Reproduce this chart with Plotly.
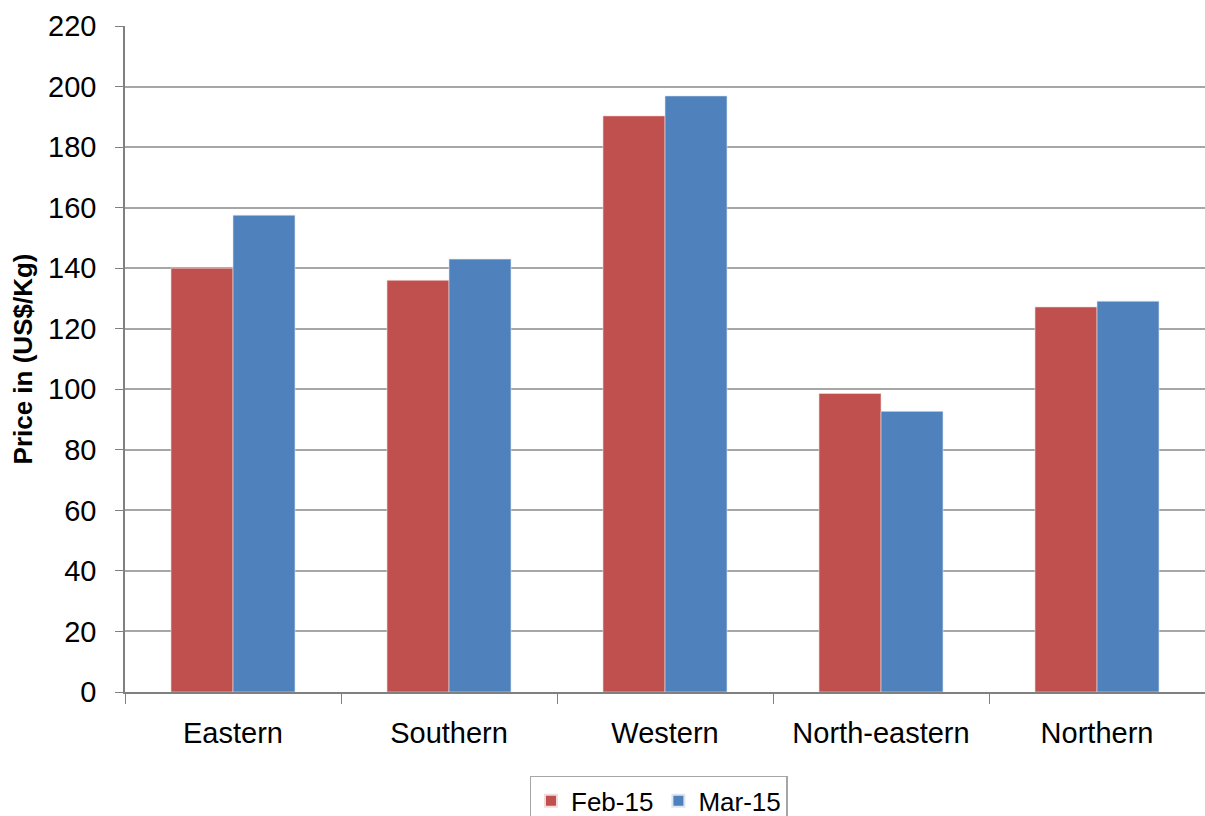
import plotly.graph_objects as go

regions = ["Eastern", "Southern", "Western", "North-eastern", "Northern"]
feb_15 = [140.0, 136.0, 190.3, 98.6, 127.2]
mar_15 = [157.5, 143.0, 196.9, 92.7, 129.1]
y_ticks = list(range(0, 221, 20))

fig = go.Figure()
fig.add_trace(go.Bar(name="Feb-15", x=regions, y=feb_15,
                     marker=dict(color="#C0504D", line=dict(color="#F2DCDB", width=0.6))))
fig.add_trace(go.Bar(name="Mar-15", x=regions, y=mar_15,
                     marker=dict(color="#4F81BD", line=dict(color="#DCE6F2", width=0.6))))

fig.update_layout(
    width=1205, height=816,
    margin=dict(l=125, r=0, t=26, b=124, autoexpand=False),
    plot_bgcolor="white", paper_bgcolor="white",
    barmode="group", bargap=0.426, bargroupgap=0,
    font=dict(family="Liberation Sans, Arial, sans-serif", color="#000000"),
    showlegend=True,
    legend=dict(orientation="h", x=0.494, xanchor="center", y=-0.126, yanchor="top",
                bordercolor="#A6A6A6", borderwidth=1.5, font=dict(size=26),
                itemsizing="constant", traceorder="normal"),
)
fig.update_xaxes(
    type="category", tickson="boundaries", ticks="outside", ticklen=10, tickcolor="#808080",
    showline=True, linecolor="#808080", linewidth=1.5, showgrid=False,
    tickfont=dict(size=29), ticklabelstandoff=14, automargin=False,
)
fig.update_yaxes(
    range=[0, 220], tickvals=y_ticks, ticks="outside", ticklen=8, tickcolor="#808080",
    showline=True, linecolor="#808080", linewidth=1.5,
    showgrid=True, gridcolor="#A6A6A6", gridwidth=1.5, zeroline=False,
    tickfont=dict(size=29), ticklabelstandoff=13, automargin=False,
    title=dict(text="<b>Price in (US$/Kg)</b>", font=dict(size=26), standoff=8),
)

fig.write_html(
    "out.html",
    config={"displayModeBar": False},
    post_script=(
        "document.documentElement.style.overflow='hidden';"
        "document.documentElement.style.height='816px';"
        "document.body.style.margin='0';"
        "document.body.style.height='816px';"
        "document.body.style.overflow='hidden';"
    ),
)
